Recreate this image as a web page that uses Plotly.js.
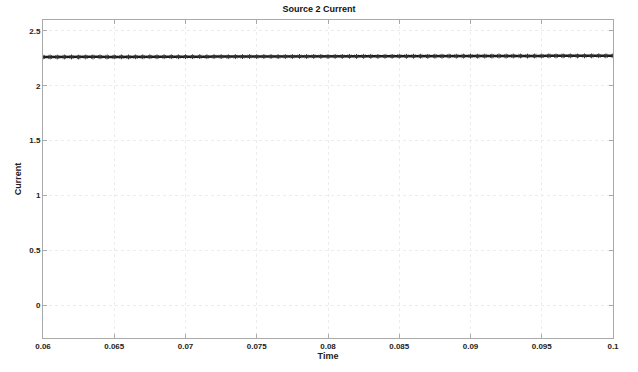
<!DOCTYPE html>
<html>
<head>
<meta charset="utf-8">
<script src="https://cdn.plot.ly/plotly-3.0.1.min.js"></script>
<style>html,body{margin:0;padding:0;background:#fff;}#chart{width:638px;height:372px;}</style>
</head>
<body>
<div id="chart"></div>
<script>
const chartTitle = "Source 2 Current";
const xLabel = "Time";
const yLabel = "Current";
const xTickVals = [0.06, 0.065, 0.07, 0.075, 0.08, 0.085, 0.09, 0.095, 0.1];
const xTickText = ["0.06", "0.065", "0.07", "0.075", "0.08", "0.085", "0.09", "0.095", "0.1"];
const yTickVals = [0, 0.5, 1, 1.5, 2, 2.5];
const yTickText = ["0", "0.5", "1", "1.5", "2", "2.5"];
const time = [
0.0600,0.0605,0.0610,0.0615,0.0620,0.0625,0.0630,0.0635,0.0640,0.0645,
0.0650,0.0655,0.0660,0.0665,0.0670,0.0675,0.0680,0.0685,0.0690,0.0695,
0.0700,0.0705,0.0710,0.0715,0.0720,0.0725,0.0730,0.0735,0.0740,0.0745,
0.0750,0.0755,0.0760,0.0765,0.0770,0.0775,0.0780,0.0785,0.0790,0.0795,
0.0800,0.0805,0.0810,0.0815,0.0820,0.0825,0.0830,0.0835,0.0840,0.0845,
0.0850,0.0855,0.0860,0.0865,0.0870,0.0875,0.0880,0.0885,0.0890,0.0895,
0.0900,0.0905,0.0910,0.0915,0.0920,0.0925,0.0930,0.0935,0.0940,0.0945,
0.0950,0.0955,0.0960,0.0965,0.0970,0.0975,0.0980,0.0985,0.0990,0.0995,0.1000];
const current = [
2.262,2.263,2.262,2.263,2.263,2.262,2.263,2.263,2.264,2.263,
2.264,2.264,2.263,2.264,2.264,2.265,2.264,2.265,2.265,2.264,
2.265,2.265,2.266,2.265,2.266,2.266,2.265,2.266,2.266,2.267,
2.266,2.267,2.267,2.266,2.267,2.267,2.268,2.267,2.268,2.268,
2.267,2.268,2.268,2.269,2.268,2.269,2.269,2.268,2.269,2.269,
2.270,2.269,2.270,2.270,2.269,2.270,2.270,2.271,2.270,2.271,
2.271,2.270,2.271,2.271,2.272,2.271,2.272,2.272,2.271,2.272,
2.272,2.273,2.272,2.273,2.273,2.272,2.273,2.273,2.274,2.273,2.274];

const FONT = "Liberation Sans, Arial, sans-serif";
const trace = {
  x: time, y: current, type: "scatter", mode: "lines+markers",
  line: {color: "#1a1a1a", width: 2.5},
  marker: {symbol: "asterisk-open", size: 4, color: "#333", line: {color: "#333", width: 1}},
  hoverinfo: "skip"
};
const axisCommon = {
  showline: true, linecolor: "#aaa", linewidth: 1, mirror: "ticks",
  ticks: "inside", ticklen: 4, tickcolor: "#aaa",
  showgrid: true, gridcolor: "#ececec", griddash: "dot", gridwidth: 1,
  zeroline: false,
  tickfont: {family: FONT, size: 8, color: "#222", weight: "bold"}
};
const layout = {
  width: 638, height: 372,
  margin: {l: 43, r: 25, t: 20, b: 34},
  paper_bgcolor: "#fff", plot_bgcolor: "#fff",
  showlegend: false,
  title: {text: chartTitle, x: 0.5, xanchor: "center", y: 0.975, yanchor: "middle",
    font: {family: FONT, size: 9, color: "#111", weight: "bold"}},
  xaxis: Object.assign({}, axisCommon, {
    range: [0.06, 0.1], tickvals: xTickVals, ticktext: xTickText,
    title: {text: xLabel, standoff: 3, font: {family: FONT, size: 9, color: "#222", weight: "bold"}}
  }),
  yaxis: Object.assign({}, axisCommon, {
    range: [-0.3, 2.6], tickvals: yTickVals, ticktext: yTickText,
    title: {text: yLabel, standoff: 6, font: {family: FONT, size: 9, color: "#222", weight: "bold"}}
  })
};
Plotly.newPlot("chart", [trace], layout, {displayModeBar: false, staticPlot: true});
</script>
</body>
</html>
